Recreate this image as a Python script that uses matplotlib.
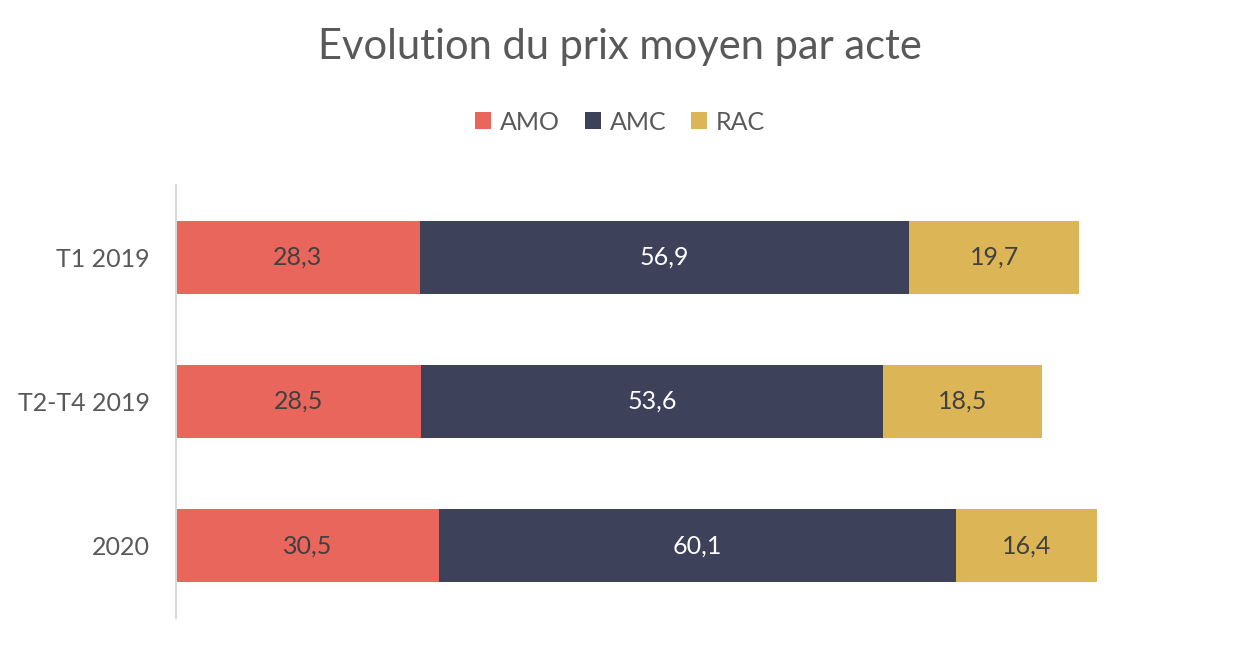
import numpy as np
import matplotlib.pyplot as plt

plt.rcParams['font.family'] = ['Lato', 'DejaVu Sans']

# data
categories = ["T1 2019", "T2-T4 2019", "2020"]
series = ["AMO", "AMC", "RAC"]
amo = [28.3, 28.5, 30.5]
amc = [56.9, 53.6, 60.1]
rac = [19.7, 18.5, 16.4]

colors = ["#E8665B", "#3D4159", "#DCB656"]
label_colors = ["#404040", "white", "#404040"]

fig = plt.figure(figsize=(12.4, 6.46), dpi=100)
ax = fig.add_axes([176 / 1240, 1 - 618 / 646, (1209 - 176) / 1240, (618 - 185) / 646])

y = np.arange(len(categories))
left = np.zeros(len(categories))
for name, vals, col, lc in zip(series, [amo, amc, rac], colors, label_colors):
    bars = ax.barh(y, vals, left=left, height=0.505, color=col, label=name)
    for b, v in zip(bars, vals):
        ax.text(b.get_x() + b.get_width() / 2, b.get_y() + b.get_height() / 2,
                f"{v:.1f}".replace(".", ","), ha="center", va="center",
                color=lc, fontsize=18)
    left += np.array(vals)

ax.set_xlim(0, 120)
ax.set_ylim(2.5, -0.5)
ax.set_yticks(y)
ax.set_yticklabels(categories, fontsize=18, color="#595959")
ax.tick_params(axis="y", length=0, pad=19)
ax.set_xticks([])
for s in ["top", "right", "bottom"]:
    ax.spines[s].set_visible(False)
ax.spines["left"].set_color("#D9D9D9")
ax.spines["left"].set_linewidth(1.5)

fig.text(0.5, 1 - 47 / 646, "Evolution du prix moyen par acte", ha="center", va="center",
         fontsize=30, color="#595959")
fig.legend(loc="center", bbox_to_anchor=(0.5, 1 - 122 / 646), ncol=3, frameon=False,
           fontsize=18, handlelength=0.65, handleheight=0.65, handletextpad=0.35,
           columnspacing=1.0, labelcolor="#595959")

fig.savefig("out.png", dpi=100)
